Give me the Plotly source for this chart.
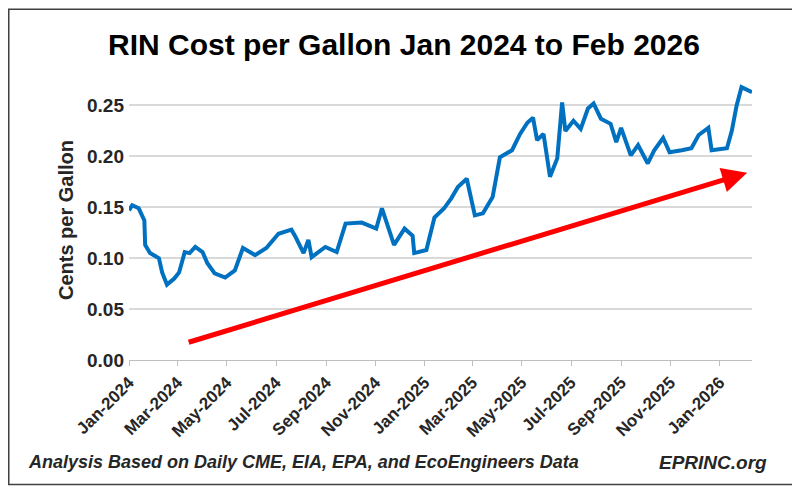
import plotly.graph_objects as go

dates = ["2024-01-01","2024-01-05","2024-01-13","2024-01-20","2024-01-21","2024-01-27","2024-02-07","2024-02-11","2024-02-17","2024-02-26",
"2024-03-03","2024-03-10","2024-03-16","2024-03-23","2024-04-01","2024-04-07","2024-04-16","2024-04-29","2024-05-11","2024-05-21",
"2024-06-05","2024-06-19","2024-07-04","2024-07-20","2024-07-25","2024-08-04","2024-08-10","2024-08-14","2024-08-31","2024-09-14",
"2024-09-25","2024-10-15","2024-11-02","2024-11-09","2024-11-24","2024-12-07","2024-12-17","2024-12-19","2025-01-03","2025-01-13",
"2025-01-25","2025-02-03","2025-02-11","2025-02-22","2025-03-04","2025-03-14","2025-03-26","2025-04-04","2025-04-19","2025-04-29",
"2025-05-08","2025-05-15","2025-05-20","2025-05-28","2025-06-05","2025-06-14","2025-06-20","2025-06-24","2025-07-04","2025-07-13",
"2025-07-22","2025-07-29","2025-08-07","2025-08-19","2025-08-26","2025-09-01","2025-09-13","2025-09-22","2025-10-04","2025-10-12",
"2025-10-23","2025-10-31","2025-11-15","2025-11-27","2025-12-06","2025-12-18","2025-12-22","2026-01-10","2026-01-16","2026-01-22",
"2026-01-28","2026-02-10"]
values = [0.147,0.152,0.149,0.137,0.113,0.105,0.100,0.086,0.074,0.080,
0.086,0.106,0.105,0.111,0.106,0.095,0.085,0.081,0.088,0.110,
0.103,0.110,0.124,0.128,0.121,0.105,0.118,0.101,0.111,0.106,
0.134,0.135,0.129,0.149,0.113,0.129,0.122,0.105,0.108,0.140,
0.149,0.159,0.170,0.178,0.142,0.144,0.160,0.199,0.206,0.222,
0.233,0.238,0.216,0.222,0.180,0.198,0.253,0.225,0.235,0.227,
0.247,0.252,0.237,0.232,0.214,0.228,0.201,0.211,0.193,0.206,
0.218,0.204,0.206,0.208,0.221,0.228,0.206,0.208,0.225,0.250,
0.268,0.263]
arrow_tail = ("2024-03-13", 0.017)
arrow_head = ("2026-02-04", 0.184)
tickvals = ["2024-01-01","2024-03-01","2024-05-01","2024-07-01","2024-09-01","2024-11-01",
            "2025-01-01","2025-03-01","2025-05-01","2025-07-01","2025-09-01","2025-11-01","2026-01-01"]
ytickvals = [0, 0.05, 0.10, 0.15, 0.20, 0.25]
yticktext = ["0.00", "0.05", "0.10", "0.15", "0.20", "0.25"]

F = "Liberation Sans, Arial"
TXT = "#262626"
fig = go.Figure(go.Scatter(x=dates, y=values, mode="lines", line=dict(color="#0070C0", width=4)))
fig.add_annotation(x=arrow_head[0], y=arrow_head[1], ax=arrow_tail[0], ay=arrow_tail[1],
                   xref="x", yref="y", axref="x", ayref="y", text="", showarrow=True,
                   arrowhead=2, arrowsize=1, arrowwidth=5, arrowcolor="#FF0000")
fig.add_annotation(x=-0.165, y=-0.365, xref="paper", yref="paper", xanchor="left", yanchor="middle",
                   text="<b><i>Analysis Based on Daily CME, EIA, EPA, and EcoEngineers Data</i></b>",
                   showarrow=False, font=dict(family=F, size=18, color=TXT))
fig.add_annotation(x=1.027, y=-0.365, xref="paper", yref="paper", xanchor="right", yanchor="middle",
                   text="<b><i>EPRINC.org</i></b>", showarrow=False, font=dict(family=F, size=19, color=TXT))
fig.add_shape(type="rect", xref="paper", yref="paper", x0=-0.193, x1=1.075, y0=-0.445, y1=1.253,
              line=dict(color="#404040", width=1.5))
fig.update_layout(
    width=792, height=478, margin=dict(l=121, r=48, t=72, b=126, autoexpand=False),
    paper_bgcolor="white", plot_bgcolor="white", showlegend=False,
    title=dict(text="<b>RIN Cost per Gallon Jan 2024 to Feb 2026</b>", x=0.5, xanchor="center",
               y=0.923, yanchor="middle", font=dict(family=F, size=30, color="black")),
    xaxis=dict(range=["2024-01-01","2026-02-10"], tickvals=tickvals, tickformat="%b-%Y", tickangle=-45,
               showgrid=False, showline=True, linecolor="#BFBFBF", ticks="outside", ticklen=5,
               tickcolor="#BFBFBF", automargin=False,
               tickfont=dict(family=F, size=17, color=TXT, weight="bold")),
    yaxis=dict(range=[0, 0.275], tickmode="array", tickvals=ytickvals,
               ticktext=["<b>%s</b>" % t for t in yticktext],
               showgrid=True, gridcolor="#D9D9D9", gridwidth=1.5, zeroline=False,
               showline=False, ticks="", ticklabelstandoff=4,
               title=dict(text="<b>Cents per Gallon</b>", font=dict(family=F, size=20, color=TXT), standoff=8),
               tickfont=dict(family=F, size=19, color=TXT)),
)
fig.write_html("out.html")
